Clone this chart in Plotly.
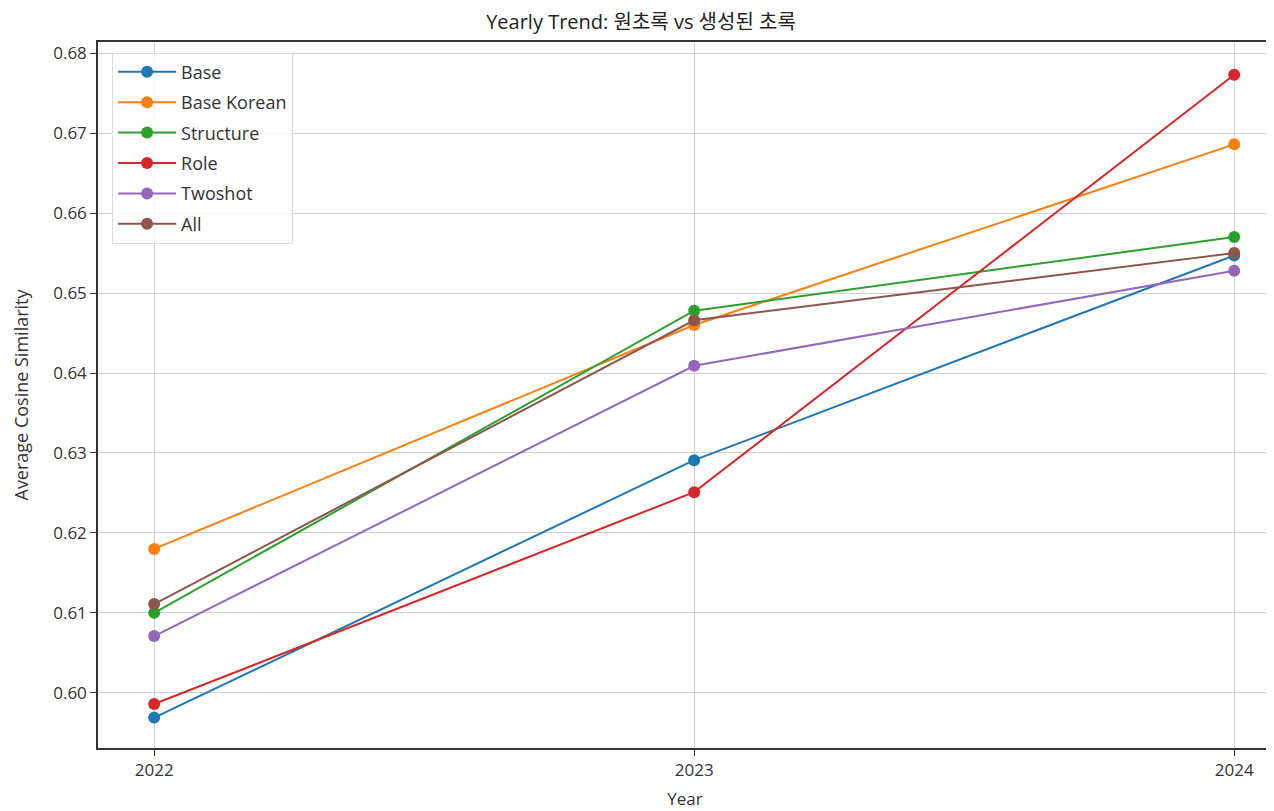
import plotly.graph_objects as go

years = [2022, 2023, 2024]
series_names = ["Base", "Base Korean", "Structure", "Role", "Twoshot", "All"]
base = [0.5969, 0.6291, 0.6547]
base_korean = [0.6180, 0.6460, 0.6686]
structure = [0.6100, 0.6478, 0.6570]
role = [0.5986, 0.6251, 0.6773]
twoshot = [0.6071, 0.6409, 0.6528]
all_ = [0.6111, 0.6466, 0.6550]
values = [base, base_korean, structure, role, twoshot, all_]
colors = ["#1f77b4", "#ff7f0e", "#2ca02c", "#d62728", "#9467bd", "#8c564b"]
y_ticks = [0.60, 0.61, 0.62, 0.63, 0.64, 0.65, 0.66, 0.67, 0.68]

FONT = "Open Sans, Noto Sans CJK KR"

fig = go.Figure()
for name, vals, c in zip(series_names, values, colors):
    fig.add_trace(go.Scatter(x=years, y=vals, name=name, mode="lines+markers",
                             legendgroup=name,
                             line=dict(color=c, width=2),
                             marker=dict(color=c, size=12)))

fig.update_layout(
    width=1266, height=803,
    paper_bgcolor="white", plot_bgcolor="white",
    margin=dict(l=90, r=0, t=34, b=63),
    font=dict(family=FONT, size=17, color="#333333"),
    title=dict(text="Yearly Trend: 원초록 vs 생성된 초록", x=0.5, xanchor="center",
               y=0.982, yanchor="middle", font=dict(size=20, color="#222222")),
    legend=dict(x=0.012, y=0.985, xanchor="left", yanchor="top",
                bgcolor="rgba(255,255,255,0.85)", bordercolor="#dddddd", borderwidth=1,
                font=dict(size=18, color="#333333"), itemwidth=58, tracegroupgap=4),
    showlegend=True,
)
fig.update_xaxes(
    range=[2021.896, 2024.07], tickvals=years, ticktext=[str(y) for y in years],
    showgrid=True, gridcolor="#d0d0d0", gridwidth=1,
    showline=True, linecolor="#333333", linewidth=1.5, mirror=True,
    ticks="outside", ticklen=6, tickcolor="#333333", zeroline=False,
    title=dict(text="Year", font=dict(size=17), standoff=13),
)
fig.update_yaxes(
    range=[0.5931, 0.6814], tickvals=y_ticks, ticktext=[f"{v:.2f}" for v in y_ticks],
    showgrid=True, gridcolor="#d0d0d0", gridwidth=1,
    showline=True, linecolor="#333333", linewidth=1.5, mirror=True,
    ticks="outside", ticklen=6, tickcolor="#333333", zeroline=False,
    title=dict(text="Average Cosine Similarity", font=dict(size=18), standoff=20),
)

fig.write_html("out.html")
